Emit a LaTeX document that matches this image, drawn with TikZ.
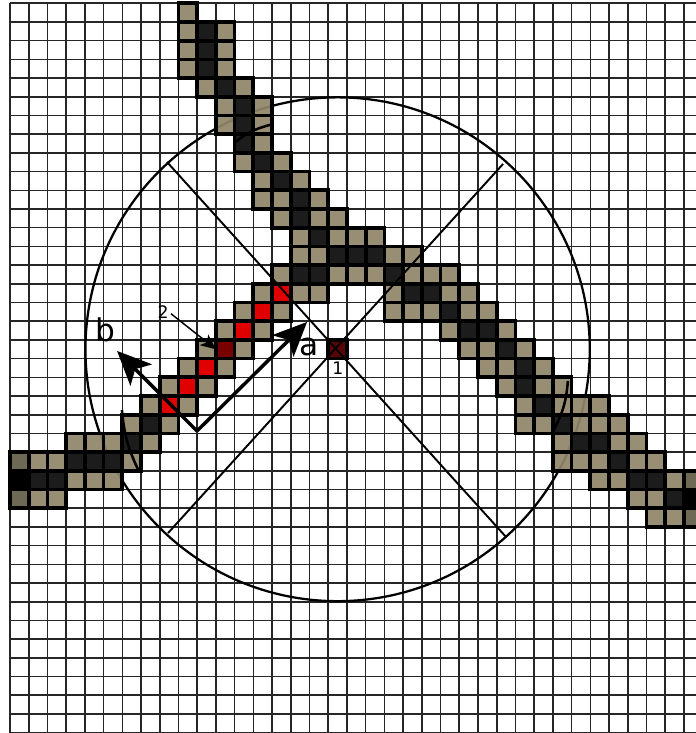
\documentclass[tikz,border=0pt]{standalone}
\usepackage{xcolor}
\usepackage{fontspec}
\usepackage{tikz}
\usetikzlibrary{arrows.meta,positioning}
\setmainfont{DejaVu Sans}

\definecolor{cellTan}{HTML}{8F8568}
\definecolor{cellDim}{HTML}{6E6955}
\definecolor{cellDark}{HTML}{1C1C1C}
\definecolor{cellRed}{HTML}{E10000}
\definecolor{cellBrown}{HTML}{780000}
\definecolor{cellCentre}{HTML}{5A0505}

\begin{document}
\begin{tikzpicture}[
  x=0.4953cm,
  y=-0.4948cm,
  gridline/.style={line width=1.2pt, color=black!85},
  cellbox/.style={draw=black, line width=2.8pt},
  tancell/.style={cellbox, fill=cellTan, fill opacity=0.93},
  dimcell/.style={cellbox, fill=cellDim},
  darkcell/.style={cellbox, fill=cellDark},
  redcell/.style={cellbox, fill=cellRed},
  thinline/.style={line width=1.45pt, color=black},
  ringline/.style={line width=1.7pt, color=black},
  sliver/.style={line width=1.9pt, color=black},
  axisarrow/.style={-{Stealth[length=9mm, width=8mm, inset=2.2mm]}, line width=2.6pt, color=black},
  pointer/.style={-{Stealth[length=4mm, width=3.6mm, inset=1mm]}, line width=1.1pt, color=black},
  biglabel/.style={font=\fontsize{23.5}{25}\selectfont, inner sep=0pt},
  smalllabel/.style={font=\fontsize{13}{15}\selectfont, inner sep=0pt}
]
  \useasboundingbox (-0.534,-0.176) rectangle (36.645,39.02);
  \clip (-0.534,-0.176) rectangle (36.645,39.02);

  % grid
  \foreach \r in {0,...,39}
    \draw[gridline] (0,\r) -- (36.645,\r);
  \foreach \c in {0,...,36}
    \draw[gridline] (\c,0) -- (\c,39.02);

  % ring
  \coordinate (centre) at (17.5,18.5);
  \draw[ringline] (centre) circle [radius=13.47];

  % cells of the stripes
  \foreach \c/\r in {9/0,9/1,11/1,9/2,11/2,9/3,11/3,10/4,12/4,11/5,13/5,11/6,13/6,13/7,
      12/8,14/8,13/9,15/9,13/10,14/10,16/10,14/11,16/11,17/11,15/12,17/12,18/12,19/12,
      15/13,16/13,20/13,21/13,14/14,17/14,18/14,19/14,21/14,22/14,23/14,
      13/15,15/15,16/15,20/15,23/15,24/15,12/16,14/16,20/16,21/16,22/16,24/16,25/16,
      11/17,13/17,23/17,26/17,10/18,12/18,24/18,25/18,27/18,
      9/19,11/19,25/19,26/19,28/19,8/20,10/20,26/20,28/20,29/20,
      7/21,9/21,27/21,29/21,30/21,31/21,6/22,8/22,27/22,28/22,30/22,31/22,32/22,
      3/23,4/23,5/23,7/23,29/23,32/23,33/23,
      1/24,2/24,6/24,29/24,30/24,31/24,33/24,34/24,
      3/25,4/25,5/25,31/25,32/25,35/25,1/26,2/26,33/26,34/26,34/27,35/27}
    \draw[tancell] (\c,\r) rectangle ++(1,1);
  \foreach \c/\r in {10/1,10/2,10/3,11/4,12/5,12/6,12/7,13/8,14/9,15/10,15/11,16/12,
      17/13,18/13,19/13,15/14,16/14,20/14,21/15,22/15,23/16,24/17,25/17,26/18,27/19,
      27/20,28/21,29/22,7/22,6/23,30/23,31/23,3/24,4/24,5/24,32/24,1/25,2/25,33/25,34/25,35/26}
    \draw[darkcell] (\c,\r) rectangle ++(1,1);
  \foreach \c/\r in {14/15,13/16,12/17,10/19,9/20,8/21}
    \draw[redcell] (\c,\r) rectangle ++(1,1);
  \foreach \c/\r in {0/24,0/26,36/25,36/27}
    \draw[dimcell] (\c,\r) rectangle ++(1,1);
  \foreach \c/\r in {0/25,36/26}
    \draw[cellbox, fill=black] (\c,\r) rectangle ++(1,1);
  \draw[cellbox, fill=cellBrown] (11,18) rectangle ++(1,1);
  \draw[cellbox, fill=cellCentre] (17,18) rectangle ++(1,1);

  % arcs cut out of the ring
  \coordinate (topa) at (12,7.45);
  \coordinate (topb) at (13.9,6.5);
  \coordinate (lefta) at (5.98,21.75);
  \coordinate (leftb) at (6.85,24.95);
  \coordinate (righta) at (29,22.9);
  \coordinate (rightb) at (29.8,20.2);
  \draw[sliver] (topa) to[bend left=12] (topb);
  \draw[sliver] (lefta) to[bend right=10] (leftb);
  \draw[sliver] (righta) to[bend right=12] (rightb);

  % diagonals of the ring
  \coordinate (ul) at (8.39,8.49);
  \coordinate (lr) at (26.5,28.54);
  \coordinate (ur) at (26.34,8.59);
  \coordinate (ll) at (8.44,28.33);
  \draw[thinline] (ul) -- (lr);
  \draw[thinline] (ur) -- (ll);

  % arrows of the local frame
  \coordinate (frame) at (9.99,22.87);
  \coordinate (tipa) at (15.87,17.04);
  \coordinate (tipb) at (5.72,18.59);
  \draw[axisarrow] (frame) -- (tipa);
  \draw[axisarrow] (frame) -- (tipb);

  \node[biglabel] (labela) at (15.95,18.4) {a};
  \node[biglabel] (labelb) at (5.08,17.45) {b};
  \node[smalllabel] (labelone) at (17.52,19.5) {1};
  \node[smalllabel] (labeltwo) at (8.18,16.5) {2};
  \coordinate (pixeltwo) at (11,18.5);
  \draw[pointer] (labeltwo) ++(0.42,0.1) -- (pixeltwo);
\end{tikzpicture}
\end{document}
